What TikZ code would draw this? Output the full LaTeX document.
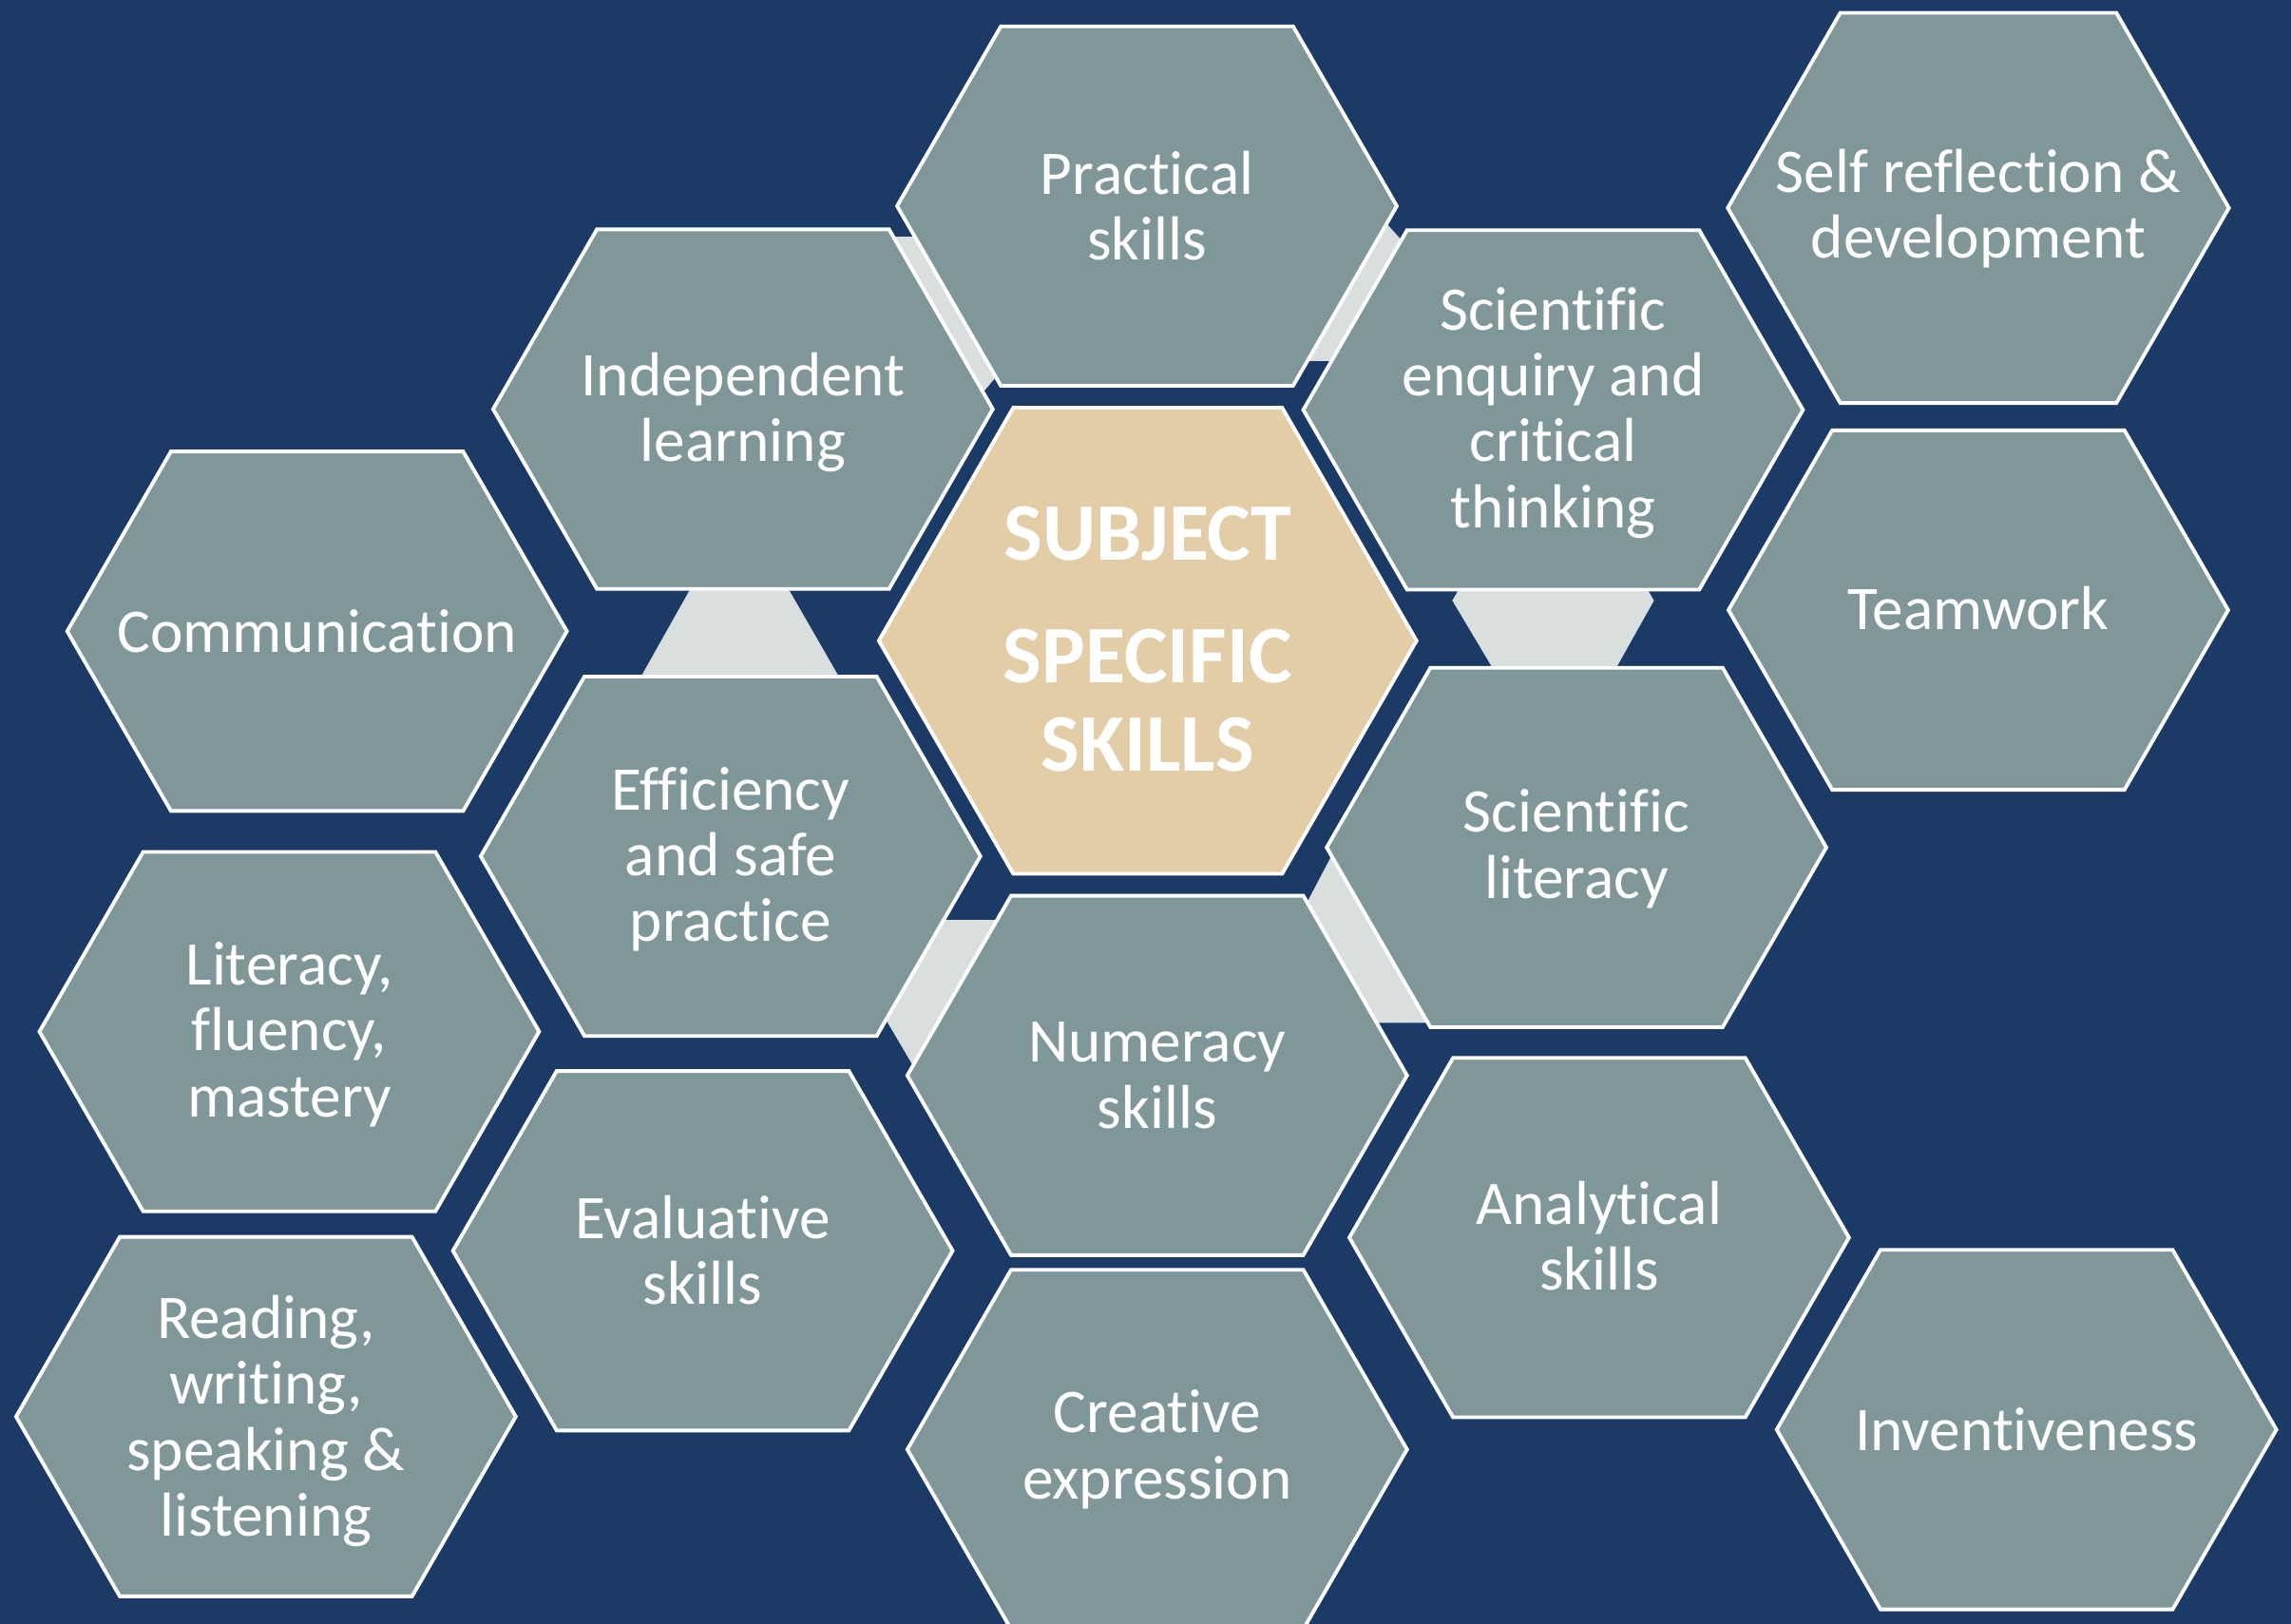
\documentclass[tikz,border=0pt]{standalone}
\usepackage{fontspec}
\setmainfont{Carlito}[Ligatures=NoCommon]
\definecolor{navy}{HTML}{1C3A66}
\definecolor{hexgrey}{HTML}{80979A}
\definecolor{hextan}{HTML}{E2CDA7}
\definecolor{linkgrey}{HTML}{D9DEDE}
% #1 cx, #2 cy, #3 half width, #4 half height, #5 corner offset, #6 style
\newcommand\hexat[6]{\draw[#6] (#1-#3,#2) -- (#1-#3+#5,#2-#4) -- (#1+#3-#5,#2-#4) -- (#1+#3,#2) -- (#1+#3-#5,#2+#4) -- (#1-#3+#5,#2+#4) -- cycle;}
\newcommand\ghex[2]{\hexat{#1}{#2}{171}{123}{71}{greyhex}}
\begin{document}
\begin{tikzpicture}[x=0.015376cm,y=-0.015376cm,
  hexline/.style={draw=white,line width=1.1pt,line join=miter},
  greyhex/.style={hexline,fill=hexgrey},
  centrehex/.style={hexline,fill=hextan},
  link/.style={fill=linkgrey},
  skill/.style={text=white,align=center,inner sep=0pt,font=\fontsize{18.6}{19.7}\selectfont},
  core/.style={text=white,align=center,inner sep=0pt,font=\bfseries\fontsize{24.5}{26.4}\selectfont}]
\fill[navy] (0,0) rectangle (1568,1111.4);
\useasboundingbox (0,0) rectangle (1568,1111.4);
\clip (0,0) rectangle (1568,1111.4);
% light connectors behind the cells
\fill[link] (477,395) -- (535,395) -- (581,475) -- (432,475) -- cycle;
\fill[link] (1001.6,398) -- (994,411) -- (1028,468) -- (1100,468) -- (1132,411) -- (1124.4,398) -- cycle;
\fill[link] (598,162) -- (640,162) -- (690,248) -- (664,279) -- cycle;
\fill[link] (940,143) -- (967,173) -- (925,247) -- (880,247) -- cycle;
\fill[link] (632,629.6) -- (696,629.6) -- (632,741.5) -- (600,687) -- cycle;
\fill[link] (888,630) -- (918,573) -- (990,700) -- (930,700) -- cycle;
% cells
\ghex{785}{141}
\hexat{1354}{142.3}{171.5}{133.5}{77}{greyhex}
\ghex{508.5}{280}
\ghex{1063}{280.5}
\ghex{217}{432}
\ghex{1354}{417.5}
\ghex{500}{586}
\ghex{1079}{580}
\ghex{198}{706}
\ghex{792}{736}
\ghex{481}{856}
\ghex{1094.5}{847}
\ghex{182}{969.5}
\ghex{792}{992}
\ghex{1387}{978.4}
\hexat{785.5}{438.5}{184}{159.5}{92}{centrehex}
% texts
\node[skill] (practical) at (785,141) {Practical\\skills};
\node[skill] (selfref) at (1354,143) {Self reflection \&\\development};
\node[skill] (independent) at (508.5,282) {Independent\\learning};
\node[skill] (enquiry) at (1063,282.5) {Scientific\\enquiry and\\critical\\thinking};
\node[skill] (communication) at (217,432) {Communication};
\node[skill] (teamwork) at (1354,416.5) {Teamwork};
\node[skill] (efficiency) at (500,588) {Efficiency\\and safe\\practice};
\node[skill] (sciliteracy) at (1079,581) {Scientific\\literacy};
\node[skill] (literacy) at (198,708) {Literacy,\\fluency,\\mastery};
\node[skill] (numeracy) at (792,736) {Numeracy\\skills};
\node[skill] (evaluative) at (481,855.5) {Evaluative\\skills};
\node[skill] (analytical) at (1094.5,846) {Analytical\\skills};
\node[skill] (reading) at (182,972.5) {Reading,\\writing,\\speaking \&\\listening};
\node[skill] (creative) at (792,992) {Creative\\expression};
\node[skill] (inventiveness) at (1387,978) {Inventiveness};
\node[core] (core) at (785.5,437.5) {SUBJECT\\[10.2pt]SPECIFIC\\SKILLS};
\end{tikzpicture}
\end{document}
